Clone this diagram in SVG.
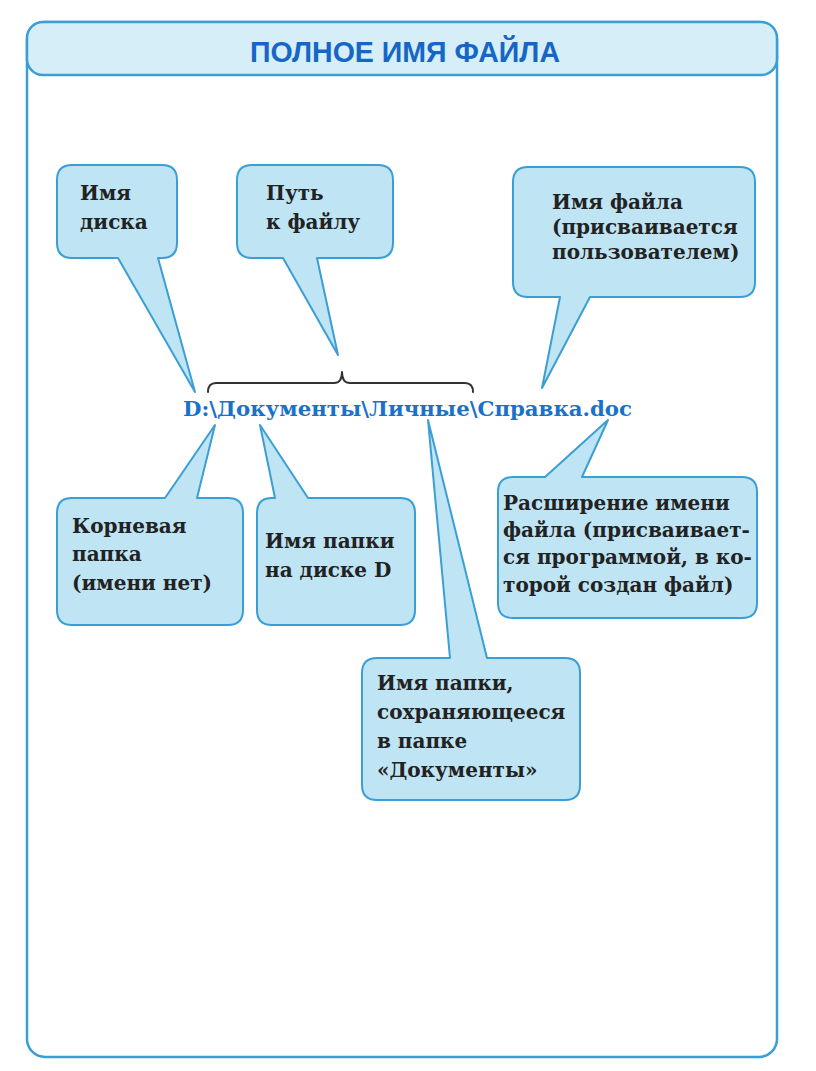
<svg xmlns="http://www.w3.org/2000/svg" width="816" height="1071" viewBox="0 0 816 1071">
<style>
.frame{fill:#ffffff;stroke:#3a9fd5;stroke-width:2.5}
.head{fill:#d6eef8;stroke:#3a9fd5;stroke-width:2.5}
.title{font-family:"Liberation Sans",Arial,sans-serif;font-weight:bold;font-size:29px;fill:#1566c6}
.co{fill:#bfe4f4;stroke:#3a9fd5;stroke-width:2;stroke-linejoin:round}
.t{font-family:"DejaVu Serif","Liberation Serif",serif;font-weight:bold;font-size:20px;fill:#222}
.path{font-family:"DejaVu Serif","Liberation Serif",serif;font-weight:bold;font-size:21px;fill:#1a72c8}
.brace{fill:none;stroke:#333;stroke-width:2;stroke-linecap:round;stroke-linejoin:round}
</style>
<rect class="frame" x="27" y="22" width="750" height="1035" rx="18"/>
<g id="header">
<rect class="head" x="27" y="22" width="750" height="53" rx="16"/>
<text class="title" x="250" y="62" textLength="310" lengthAdjust="spacingAndGlyphs">ПОЛНОЕ ИМЯ ФАЙЛА</text>
</g>
<g id="connectors">
<path class="brace" d="M208,392 Q208,383 216,383 H334 Q342,383 342,372 Q342,383 350,383 H465 Q473,383 473,392"/>
</g>
<g id="filepath">
<text class="path" x="183" y="416" textLength="449" lengthAdjust="spacingAndGlyphs">D:\Документы\Личные\Справка.doc</text>
</g>
<g id="disk">
<path class="co" d="M72,165 H162 Q177,165 177,180 V243 Q177,258 162,258 H158 L195,392 L118,258 H72 Q57,258 57,243 V180 Q57,165 72,165 Z"/>
<text class="t" x="80" y="200">Имя</text>
<text class="t" x="80" y="229">диска</text>
</g>
<g id="pathtofile">
<path class="co" d="M252,165 H378 Q393,165 393,180 V243 Q393,258 378,258 H317 L338,355 L283,258 H252 Q237,258 237,243 V180 Q237,165 252,165 Z"/>
<text class="t" x="266" y="200">Путь</text>
<text class="t" x="266" y="229">к файлу</text>
</g>
<g id="filename">
<path class="co" d="M528,167 H740 Q755,167 755,182 V282 Q755,297 740,297 H590 L542,388 L560,297 H528 Q513,297 513,282 V182 Q513,167 528,167 Z"/>
<text class="t" x="552" y="209">Имя файла</text>
<text class="t" x="552" y="234">(присваивается</text>
<text class="t" x="552" y="259">пользователем)</text>
</g>
<g id="root">
<path class="co" d="M72,498 H165 L215,425 L197,498 H228 Q243,498 243,513 V610 Q243,625 228,625 H72 Q57,625 57,610 V513 Q57,498 72,498 Z"/>
<text class="t" x="72" y="533">Корневая</text>
<text class="t" x="72" y="561">папка</text>
<text class="t" x="72" y="590">(имени нет)</text>
</g>
<g id="folderD">
<path class="co" d="M272,498 H275 L260,425 L308,498 H400 Q415,498 415,513 V610 Q415,625 400,625 H272 Q257,625 257,610 V513 Q257,498 272,498 Z"/>
<text class="t" x="265" y="548">Имя папки</text>
<text class="t" x="265" y="577">на диске D</text>
</g>
<g id="subfolder">
<path class="co" d="M377,658 H450 L428,420 L487,658 H565 Q580,658 580,673 V785 Q580,800 565,800 H377 Q362,800 362,785 V673 Q362,658 377,658 Z"/>
<text class="t" x="377" y="690">Имя папки,</text>
<text class="t" x="377" y="719">сохраняющееся</text>
<text class="t" x="377" y="748">в папке</text>
<text class="t" x="377" y="777">«Документы»</text>
</g>
<g id="extension">
<path class="co" d="M513,477 H545 L608,420 L582,477 H742 Q757,477 757,492 V603 Q757,618 742,618 H513 Q498,618 498,603 V492 Q498,477 513,477 Z"/>
<text class="t" x="503" y="510">Расширение имени</text>
<text class="t" x="503" y="537">файла (присваивает-</text>
<text class="t" x="503" y="564">ся программой, в ко-</text>
<text class="t" x="503" y="592">торой создан файл)</text>
</g>
</svg>
